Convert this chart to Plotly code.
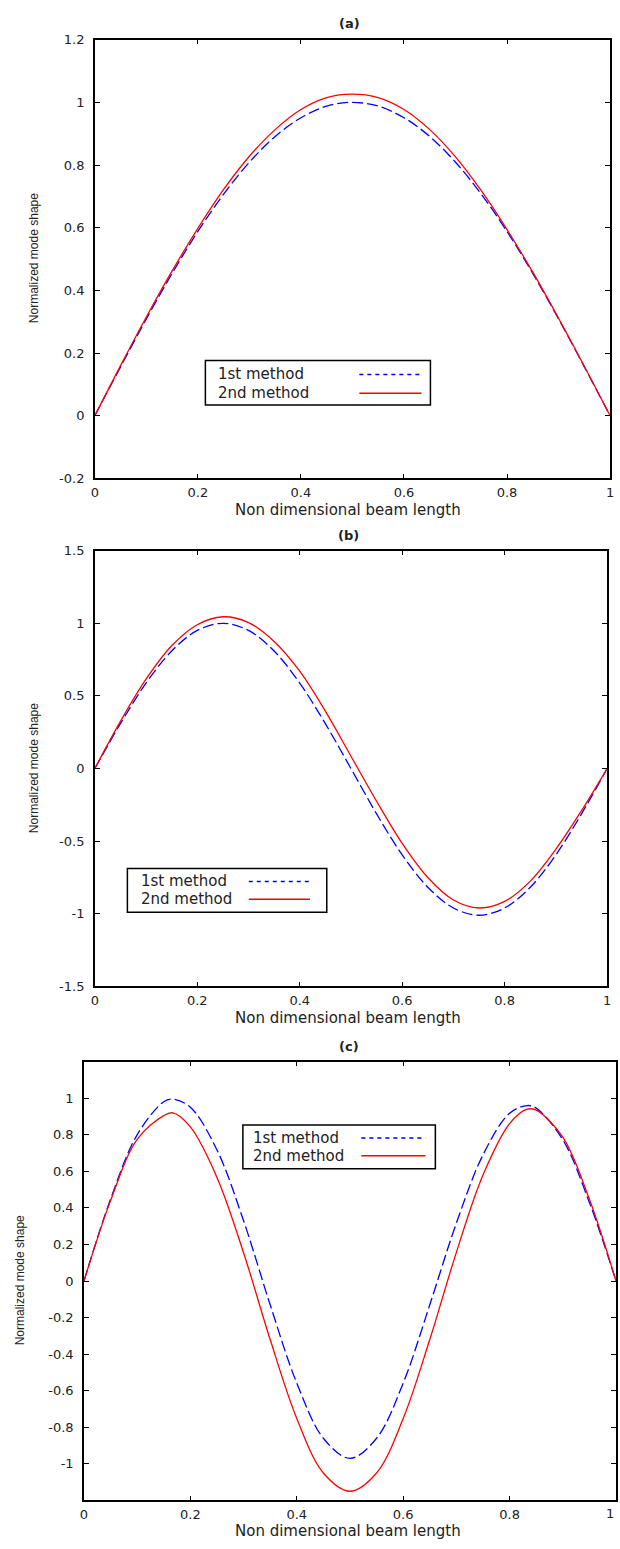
import plotly.graph_objects as go

W, H = 620, 1549

# ---------------- data ----------------
x_ab = [0.00, 0.05, 0.10, 0.15, 0.20, 0.25, 0.30, 0.35, 0.40, 0.45, 0.50,
        0.55, 0.60, 0.65, 0.70, 0.75, 0.80, 0.85, 0.90, 0.95, 1.00]

a_first = [0.000, 0.156, 0.309, 0.454, 0.588, 0.707, 0.809, 0.891, 0.951, 0.988, 1.000,
           0.988, 0.951, 0.891, 0.809, 0.707, 0.588, 0.454, 0.309, 0.156, 0.000]
a_second = [0.000, 0.160, 0.315, 0.462, 0.598, 0.722, 0.828, 0.913, 0.977, 1.015, 1.026,
            1.015, 0.977, 0.913, 0.826, 0.718, 0.594, 0.458, 0.311, 0.158, 0.000]

b_first = [0.000, 0.309, 0.588, 0.809, 0.951, 1.000, 0.951, 0.809, 0.588, 0.309, 0.000,
           -0.312, -0.594, -0.817, -0.960, -1.010, -0.960, -0.817, -0.594, -0.312, 0.000]
b_second = [0.000, 0.325, 0.615, 0.845, 0.990, 1.045, 1.005, 0.875, 0.670, 0.395, 0.085,
            -0.225, -0.515, -0.750, -0.905, -0.960, -0.915, -0.775, -0.555, -0.290, 0.000]

x_c = [0.00, 0.05, 0.10, 0.15, 0.167, 0.20, 0.25, 0.30, 0.35, 0.40, 0.45, 0.50,
       0.55, 0.60, 0.65, 0.70, 0.75, 0.80, 0.833, 0.85, 0.90, 0.95, 1.00]
c_first = [0.000, 0.448, 0.800, 0.981, 0.995, 0.951, 0.717, 0.330, -0.130, -0.558, -0.860, -0.970,
           -0.860, -0.558, -0.130, 0.317, 0.690, 0.918, 0.960, 0.946, 0.773, 0.430, 0.000]
c_second = [0.000, 0.440, 0.775, 0.905, 0.920, 0.843, 0.567, 0.155, -0.320, -0.752, -1.050, -1.150,
            -1.050, -0.752, -0.320, 0.157, 0.580, 0.861, 0.940, 0.935, 0.787, 0.447, 0.000]

series_names = ["1st method", "2nd method"]
panel_titles = ["(a)", "(b)", "(c)"]
x_title = "Non dimensional beam length"
y_title = "Normalized mode shape"
x_ticks = [0, 0.2, 0.4, 0.6, 0.8, 1]
x_ticktext = ["0", "0.2", "0.4", "0.6", "0.8", "1"]
a_yticks = [-0.2, 0, 0.2, 0.4, 0.6, 0.8, 1, 1.2]
a_ytext = ["-0.2", "0", "0.2", "0.4", "0.6", "0.8", "1", "1.2"]
b_yticks = [-1.5, -1, -0.5, 0, 0.5, 1, 1.5]
b_ytext = ["-1.5", "-1", "-0.5", "0", "0.5", "1", "1.5"]
c_yticks = [-1, -0.8, -0.6, -0.4, -0.2, 0, 0.2, 0.4, 0.6, 0.8, 1]
c_ytext = ["-1", "-0.8", "-0.6", "-0.4", "-0.2", "0", "0.2", "0.4", "0.6", "0.8", "1"]

BLUE = "#0000FF"
RED = "#FF0000"
FONT = "DejaVu Sans"
TXT = "#222222"


def px(xp):
    return xp / W


def py(yp):
    return 1 - yp / H


fig = go.Figure()

panels = [
    dict(x=x_ab, s1=a_first, s2=a_second, xa="x", ya="y"),
    dict(x=x_ab, s1=b_first, s2=b_second, xa="x2", ya="y2"),
    dict(x=x_c, s1=c_first, s2=c_second, xa="x3", ya="y3"),
]
for p in panels:
    fig.add_trace(go.Scatter(x=p["x"], y=p["s1"], mode="lines", name=series_names[0],
                             line=dict(color=BLUE, width=1.3, dash="11px,4px", shape="spline"),
                             xaxis=p["xa"], yaxis=p["ya"], showlegend=False))
    fig.add_trace(go.Scatter(x=p["x"], y=p["s2"], mode="lines", name=series_names[1],
                             line=dict(color=RED, width=1.3, shape="spline"),
                             xaxis=p["xa"], yaxis=p["ya"], showlegend=False))

# panel boxes in pixels: (left, right, top, bottom)
boxes = [(92, 614, 33, 476), (92, 611, 549, 989), (81, 620, 1065, 1508)]
yranges = [[-0.2, 1.2], [-1.5, 1.5], [-1.2, 1.2]]
yticks = [(a_yticks, a_ytext), (b_yticks, b_ytext), (c_yticks, c_ytext)]

common_axis = dict(showline=True, linecolor="black", linewidth=1.5, mirror="allticks",
                   ticks="inside", ticklen=5, tickwidth=1.2, tickcolor="black",
                   showgrid=False, zeroline=False,
                   tickfont=dict(family=FONT, size=13, color=TXT))

layout_axes = {}
for i, (l, r, t, b) in enumerate(boxes):
    sx = "" if i == 0 else str(i + 1)
    layout_axes["xaxis" + sx] = dict(
        common_axis, domain=[px(l), px(r)], range=[0, 1],
        tickvals=x_ticks, ticktext=x_ticktext, anchor="y" + sx, ticklabelstandoff=1)
    layout_axes["yaxis" + sx] = dict(
        common_axis, domain=[py(b), py(t)], range=yranges[i],
        tickvals=yticks[i][0], ticktext=yticks[i][1], anchor="x" + sx, ticklabelstandoff=6)

fig.update_layout(**layout_axes)

annotations = []
# titles
title_pos = [(350, 17), (349, 534), (350, 1050)]
for t, (xp, yp) in zip(panel_titles, title_pos):
    annotations.append(dict(text="<b>" + t + "</b>", x=px(xp), y=py(yp), xref="paper", yref="paper",
                            showarrow=False, xanchor="center", yanchor="middle",
                            font=dict(family=FONT, size=13, color=TXT)))
# x titles
for xp, yp in [(349, 508), (349, 1021), (348, 1539)]:
    annotations.append(dict(text=x_title, x=px(xp), y=py(yp), xref="paper", yref="paper",
                            showarrow=False, xanchor="center", yanchor="middle",
                            font=dict(family=FONT, size=15, color=TXT)))
# y titles
for xp, yp in [(30, 254), (30, 769), (16, 1286)]:
    annotations.append(dict(text=y_title, x=px(xp), y=py(yp), xref="paper", yref="paper",
                            showarrow=False, xanchor="center", yanchor="middle", textangle=-90,
                            font=dict(family="Liberation Sans", size=12, color=TXT)))
# the last x tick label of panel (c) sits on the page edge
annotations.append(dict(text=x_ticktext[-1], x=1.0, xref="x3", y=py(1521), yref="paper",
                        showarrow=False, xanchor="right", yanchor="middle",
                        font=dict(family=FONT, size=13, color=TXT)))

shapes = []
# legends: box (l, r, t, b), text x, row ys, sample x0, x1
legends = [
    dict(box=(204, 432, 357, 402), tx=215, rows=(371, 390), sx=(360, 423)),
    dict(box=(125, 327, 870, 914), tx=137, rows=(883, 901), sx=(248, 310)),
    dict(box=(242, 437, 1129, 1173), tx=250, rows=(1142, 1160), sx=(362, 427)),
]
for lg in legends:
    l, r, t, b = lg["box"]
    shapes.append(dict(type="rect", xref="paper", yref="paper", x0=px(l), x1=px(r), y0=py(b), y1=py(t),
                       line=dict(color="black", width=1.5), fillcolor="white", layer="above"))
    for name, yrow, col, dash in zip(series_names, lg["rows"], [BLUE, RED], ["4px,4px", "solid"]):
        annotations.append(dict(text=name, x=px(lg["tx"]), y=py(yrow), xref="paper", yref="paper",
                                showarrow=False, xanchor="left", yanchor="middle",
                                font=dict(family=FONT, size=15, color=TXT)))
        shapes.append(dict(type="line", xref="paper", yref="paper", x0=px(lg["sx"][0]), x1=px(lg["sx"][1]),
                           y0=py(yrow), y1=py(yrow), line=dict(color=col, width=1.5, dash=dash),
                           layer="above"))

fig.update_layout(width=W, height=H, margin=dict(l=0, r=0, t=0, b=0),
                  paper_bgcolor="white", plot_bgcolor="white",
                  annotations=annotations, shapes=shapes, showlegend=False)

fig.write_html("out.html",
               config={"displayModeBar": False},
               post_script="document.body.style.margin='0';document.body.style.padding='0';"
                           "document.documentElement.style.overflow='hidden';"
                           "document.body.style.overflow='hidden';")
